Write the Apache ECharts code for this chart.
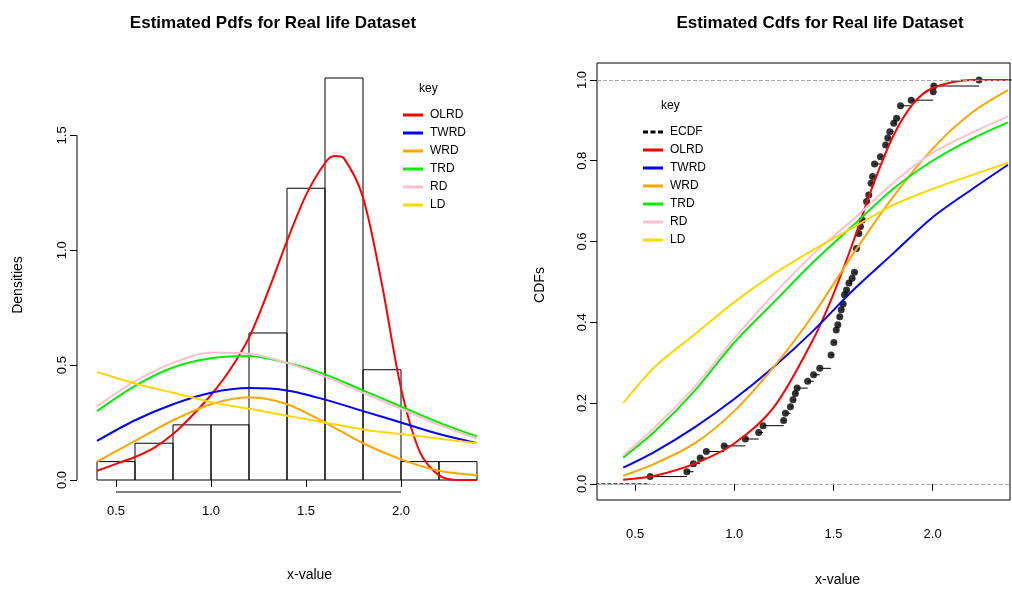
<!DOCTYPE html>
<html><head><meta charset="utf-8">
<script src="https://cdn.jsdelivr.net/npm/echarts@6/dist/echarts.min.js"></script>
<style>html,body{margin:0;background:#fff}#c{width:1012px;height:590px}</style>
</head><body><div id="c"></div>
<script>
// histogram
const binStarts = [0.4, 0.6, 0.8, 1.0, 1.2, 1.4, 1.6, 1.8, 2.0, 2.2];
const binHeights = [0.08, 0.16, 0.24, 0.24, 0.64, 1.27, 1.75, 0.48, 0.08, 0.08];
// pdf curves [x, y]
const pdfOLRD = [[0.4,0.04],[0.5,0.07],[0.6,0.10],[0.7,0.14],[0.8,0.20],[0.9,0.28],[1.0,0.37],[1.1,0.48],[1.2,0.62],[1.3,0.82],[1.4,1.04],[1.5,1.24],[1.6,1.38],[1.65,1.41],[1.7,1.40],[1.8,1.23],[1.9,0.85],[2.0,0.40],[2.1,0.12],[2.2,0.02],[2.3,0.0],[2.4,0.0]];
const pdfTWRD = [[0.4,0.17],[0.6,0.26],[0.8,0.33],[1.0,0.38],[1.2,0.40],[1.4,0.39],[1.6,0.35],[1.8,0.30],[2.0,0.25],[2.2,0.20],[2.4,0.16]];
const pdfWRD = [[0.4,0.08],[0.6,0.17],[0.8,0.26],[1.0,0.33],[1.2,0.36],[1.4,0.33],[1.6,0.25],[1.8,0.16],[2.0,0.09],[2.2,0.04],[2.4,0.02]];
const pdfTRD = [[0.4,0.30],[0.6,0.41],[0.8,0.49],[1.0,0.53],[1.2,0.54],[1.4,0.51],[1.6,0.46],[1.8,0.39],[2.0,0.32],[2.2,0.25],[2.4,0.19]];
const pdfRD = [[0.4,0.32],[0.6,0.43],[0.8,0.51],[1.0,0.555],[1.2,0.55],[1.4,0.51],[1.6,0.45],[1.8,0.38],[2.0,0.31],[2.2,0.24],[2.4,0.18]];
const pdfLD = [[0.4,0.47],[0.6,0.42],[0.8,0.38],[1.0,0.34],[1.2,0.31],[1.4,0.28],[1.6,0.25],[1.8,0.22],[2.0,0.20],[2.2,0.18],[2.4,0.16]];
// ecdf points
const ecdfPts = [[0.576,0.018],[0.761,0.030],[0.794,0.050],[0.828,0.064],[0.859,0.080],[0.949,0.094],[1.056,0.111],[1.123,0.127],[1.145,0.144],[1.249,0.157],[1.258,0.175],[1.283,0.191],[1.296,0.208],[1.308,0.224],[1.317,0.237],[1.370,0.254],[1.400,0.270],[1.431,0.286],[1.488,0.319],[1.502,0.350],[1.514,0.381],[1.522,0.394],[1.532,0.414],[1.539,0.431],[1.549,0.445],[1.556,0.468],[1.566,0.480],[1.578,0.497],[1.594,0.509],[1.606,0.524],[1.616,0.583],[1.628,0.620],[1.636,0.637],[1.645,0.653],[1.667,0.699],[1.678,0.715],[1.690,0.744],[1.697,0.761],[1.707,0.792],[1.737,0.810],[1.763,0.839],[1.774,0.856],[1.784,0.872],[1.804,0.893],[1.818,0.905],[1.838,0.936],[1.892,0.950],[2.003,0.971],[2.006,0.985],[2.234,1.0]];
// cdf curves
const cdfOLRD = [[0.44,0.01],[0.6,0.02],[0.8,0.05],[1.0,0.10],[1.2,0.19],[1.4,0.36],[1.5,0.47],[1.6,0.60],[1.7,0.74],[1.8,0.86],[1.9,0.94],[2.0,0.98],[2.2,1.0],[2.38,1.0]];
const cdfTWRD = [[0.44,0.04],[0.6,0.08],[0.8,0.14],[1.0,0.21],[1.2,0.29],[1.4,0.38],[1.6,0.48],[1.8,0.57],[2.0,0.66],[2.2,0.73],[2.38,0.79]];
const cdfWRD = [[0.44,0.02],[0.6,0.05],[0.8,0.10],[1.0,0.18],[1.2,0.29],[1.4,0.42],[1.6,0.57],[1.8,0.71],[2.0,0.83],[2.2,0.92],[2.38,0.975]];
const cdfTRD = [[0.44,0.065],[0.6,0.13],[0.8,0.23],[1.0,0.35],[1.2,0.45],[1.4,0.55],[1.6,0.64],[1.8,0.73],[2.0,0.80],[2.2,0.855],[2.38,0.895]];
const cdfRD = [[0.44,0.07],[0.6,0.14],[0.8,0.24],[1.0,0.36],[1.2,0.47],[1.4,0.57],[1.6,0.655],[1.8,0.745],[2.0,0.82],[2.2,0.87],[2.38,0.91]];
const cdfLD = [[0.44,0.20],[0.6,0.29],[0.8,0.37],[1.0,0.45],[1.2,0.52],[1.4,0.58],[1.6,0.635],[1.8,0.69],[2.0,0.73],[2.2,0.765],[2.38,0.795]];
const xTicks = [0.5, 1.0, 1.5, 2.0];
const pdfYTicks = [0, 0.5, 1.0, 1.5];
const cdfYTicks = [0, 0.2, 0.4, 0.6, 0.8, 1.0];
const names = ['OLRD', 'TWRD', 'WRD', 'TRD', 'RD', 'LD'];
const colors = ['#ff0000', '#0000ff', '#ffa500', '#00ee00', '#ffc0cb', '#ffd700'];

const font = 'Liberation Sans, Arial, sans-serif';
const chart = echarts.init(document.getElementById('c'));
const lineIcon = 'path://M0,0h20v3h-20z';
const dashIcon = 'path://M0,0h5v3h-5z M7.5,0h5v3h-5z M15,0h5v3h-5z';

function curve(name, data, color, idx) {
  return { name: name, type: 'line', data: data, smooth: 0.3, symbol: 'none',
    xAxisIndex: idx, yAxisIndex: idx, lineStyle: { color: color, width: 2 }, itemStyle: { color: color } };
}
const fmt = v => v === 0 ? '0.0' : (Number.isInteger(v) ? v.toFixed(1) : String(v));

const series = [{
  type: 'custom', xAxisIndex: 0, yAxisIndex: 0, silent: true,
  data: binStarts.map((s, i) => [s, binHeights[i]]),
  renderItem: (params, api) => {
    const p0 = api.coord([api.value(0), 0]);
    const p1 = api.coord([api.value(0) + 0.2, api.value(1)]);
    return { type: 'rect', shape: { x: p0[0], y: p1[1], width: p1[0] - p0[0], height: p0[1] - p1[1] },
      style: { fill: 'none', stroke: '#000', lineWidth: 1 } };
  }
}];
[pdfOLRD, pdfTWRD, pdfWRD, pdfTRD, pdfRD, pdfLD].forEach((d, i) => series.push(curve(names[i], d, colors[i], 0)));
// ecdf horizontal steps
series.push({
  name: 'ECDF', type: 'custom', xAxisIndex: 1, yAxisIndex: 1, silent: true, itemStyle: { color: '#000' },
  data: ecdfPts.map((p, i) => [p[0], p[1], i < ecdfPts.length - 1 ? ecdfPts[i + 1][0] : 2.5]),
  renderItem: (params, api) => {
    const a = api.coord([api.value(0), api.value(1)]);
    const b = api.coord([api.value(2), api.value(1)]);
    return { type: 'line', shape: { x1: a[0], y1: a[1], x2: b[0], y2: b[1] }, style: { stroke: '#000', lineWidth: 1 } };
  }
});
series.push({ type: 'scatter', xAxisIndex: 1, yAxisIndex: 1, data: ecdfPts, symbolSize: 7, itemStyle: { color: '#000' }, silent: true });
series.push({ type: 'line', xAxisIndex: 1, yAxisIndex: 1, data: [[0.3, 0], [0.576, 0]], symbol: 'none', lineStyle: { color: '#000', width: 1, type: 'dashed' } });
[cdfOLRD, cdfTWRD, cdfWRD, cdfTRD, cdfRD, cdfLD].forEach((d, i) => series.push(curve(names[i], d, colors[i], 1)));
series.push({ type: 'line', xAxisIndex: 1, yAxisIndex: 1, symbol: 'none', silent: true, data: [],
  markLine: { symbol: 'none', silent: true, label: { show: false }, lineStyle: { color: '#aaa', type: 'dashed', width: 1 },
    data: [{ yAxis: 0 }, { yAxis: 1 }] } });

chart.setOption({
  animation: false,
  title: [
    { text: 'Estimated Pdfs for Real life Dataset', left: 268, top: 10, textAlign: 'center', textStyle: { fontFamily: font, fontSize: 17, fontWeight: 'bold', color: '#000' } },
    { text: 'Estimated Cdfs for Real life Dataset', left: 815, top: 10, textAlign: 'center', textStyle: { fontFamily: font, fontSize: 17, fontWeight: 'bold', color: '#000' } }
  ],
  legend: [
    { orient: 'vertical', left: 398, top: 104, itemWidth: 24, itemHeight: 3, itemGap: 6, data: names.map(n => ({ name: n, icon: lineIcon })),
      textStyle: { fontFamily: font, fontSize: 12, color: '#000' }, selectedMode: false },
    { orient: 'vertical', left: 638, top: 121, itemWidth: 24, itemHeight: 3, itemGap: 6, data: [{ name: 'ECDF', icon: dashIcon }].concat(names.map(n => ({ name: n, icon: lineIcon }))),
      textStyle: { fontFamily: font, fontSize: 12, color: '#000' }, selectedMode: false }
  ],
  graphic: [
    { type: 'text', left: 419, top: 83, style: { text: 'key', font: '12px ' + font, fill: '#000' } },
    { type: 'text', left: 661, top: 100, style: { text: 'key', font: '12px ' + font, fill: '#000' } },
    { type: 'text', left: 287, top: 568, style: { text: 'x-value', font: '14px ' + font, fill: '#000', textAlign: 'center' } },
    { type: 'text', left: 815, top: 573, style: { text: 'x-value', font: '14px ' + font, fill: '#000', textAlign: 'center' } },
    { type: 'text', x: 18, y: 285, rotation: Math.PI / 2, style: { text: 'Densities', font: '14px ' + font, fill: '#000', align: 'center', verticalAlign: 'middle' } },
    { type: 'text', x: 540, y: 285, rotation: Math.PI / 2, style: { text: 'CDFs', font: '14px ' + font, fill: '#000', align: 'center', verticalAlign: 'middle' } }
  ],
  grid: [
    { left: 97, right: 535, top: 78, bottom: 110 },
    { left: 597, right: 2, top: 63, bottom: 90, show: true, borderColor: '#000', borderWidth: 1 }
  ],
  xAxis: [
    { type: 'value', gridIndex: 0, min: 0.4, max: 2.4, offset: 13, splitLine: { show: false },
      axisLine: { show: false }, axisTick: { customValues: xTicks, length: 7, lineStyle: { color: '#000' } },
      axisLabel: { customValues: xTicks, formatter: fmt, margin: 12, color: '#000', fontFamily: font, fontSize: 13 } },
    { type: 'value', gridIndex: 1, min: 0.308, max: 2.39, splitLine: { show: false },
      axisLine: { show: false }, axisTick: { customValues: xTicks, length: 7, lineStyle: { color: '#000' } },
      axisLabel: { customValues: xTicks, formatter: fmt, margin: 28, color: '#000', fontFamily: font, fontSize: 13 } }
  ],
  yAxis: [
    { type: 'value', gridIndex: 0, min: 0, max: 1.75, offset: 20, splitLine: { show: false },
      axisLine: { show: false }, axisTick: { customValues: pdfYTicks, length: 7, lineStyle: { color: '#000' } },
      axisLabel: { customValues: pdfYTicks, formatter: fmt, rotate: 90, margin: 8, color: '#000', fontFamily: font, fontSize: 13 } },
    { type: 'value', gridIndex: 1, min: -0.04, max: 1.042, splitLine: { show: false },
      axisLine: { show: false }, axisTick: { customValues: cdfYTicks, length: 7, lineStyle: { color: '#000' } },
      axisLabel: { customValues: cdfYTicks, formatter: fmt, rotate: 90, margin: 8, color: '#000', fontFamily: font, fontSize: 13 } }
  ],
  series: series
});

// R style detached axis lines spanning only the tick range
const xa = chart.convertToPixel({ xAxisIndex: 0 }, 0.5), xb = chart.convertToPixel({ xAxisIndex: 0 }, 2.0);
const ya = chart.convertToPixel({ yAxisIndex: 0 }, 0), yb = chart.convertToPixel({ yAxisIndex: 0 }, 1.5);
const g = chart.getOption().graphic[0].elements.slice();
g.push({ type: 'line', shape: { x1: xa, y1: 492, x2: xb, y2: 492 }, style: { stroke: '#000', lineWidth: 1 } });
g.push({ type: 'line', shape: { x1: 77, y1: ya, x2: 77, y2: yb }, style: { stroke: '#000', lineWidth: 1 } });
chart.setOption({ graphic: g });
</script></body></html>
